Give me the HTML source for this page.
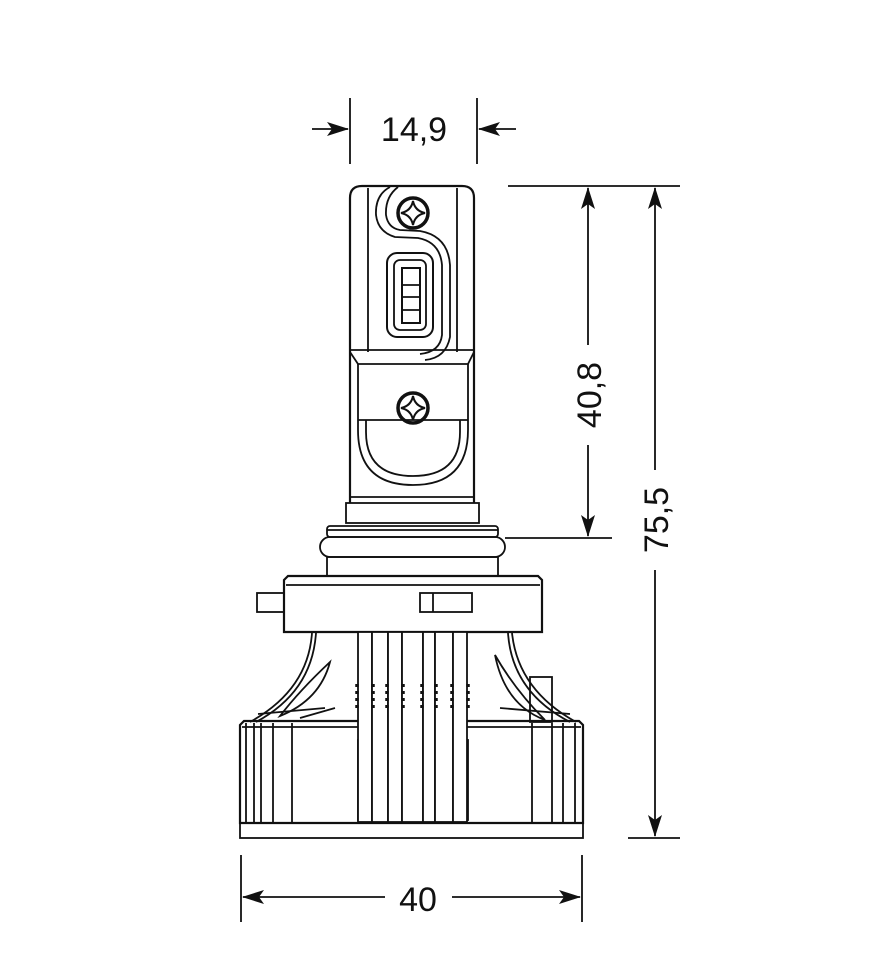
<!DOCTYPE html>
<html><head><style>html,body{margin:0;padding:0;background:#fff}svg{display:block}</style></head><body>
<svg width="870" height="967" viewBox="0 0 870 967" xmlns="http://www.w3.org/2000/svg" font-family="Liberation Sans, sans-serif">
<defs><marker id="a" markerWidth="22" markerHeight="14" refX="21" refY="7" orient="auto" markerUnits="userSpaceOnUse"><path d="M0,0 L22,7 L0,14 L5,7 Z" fill="#111"/></marker></defs>
<g stroke="#111" fill="none" stroke-width="1.8">
<!-- dimension 14,9 -->
<line x1="350" y1="98" x2="350" y2="164"/><line x1="477" y1="98" x2="477" y2="164"/>
<line x1="312" y1="129" x2="348" y2="129" marker-end="url(#a)"/>
<line x1="516" y1="129" x2="479" y2="129" marker-end="url(#a)"/>
<!-- right dims -->
<line x1="508" y1="186" x2="680" y2="186"/>
<line x1="505" y1="538" x2="612" y2="538"/>
<line x1="628" y1="838" x2="680" y2="838"/>
<line x1="588" y1="345" x2="588" y2="188" marker-end="url(#a)"/>
<line x1="588" y1="445" x2="588" y2="536" marker-end="url(#a)"/>
<line x1="655" y1="470" x2="655" y2="188" marker-end="url(#a)"/>
<line x1="655" y1="570" x2="655" y2="836" marker-end="url(#a)"/>
<!-- bottom dim -->
<line x1="241" y1="855" x2="241" y2="922"/><line x1="582" y1="855" x2="582" y2="922"/>
<line x1="385" y1="897" x2="243" y2="897" marker-end="url(#a)"/>
<line x1="452" y1="897" x2="580" y2="897" marker-end="url(#a)"/>

<!-- head -->
<path d="M350,503 L350,198 Q350,186 362,186 L462,186 Q474,186 474,198 L474,503" stroke-width="2.2"/>
<line x1="368" y1="188" x2="368" y2="352"/><line x1="457" y1="188" x2="457" y2="352"/>
<path d="M390,187 Q375,195 376,215 Q378,232 395,237 L418,238 Q440,242 442,265 L442,335 Q440,352 420,354"/>
<path d="M398,187 Q385,197 386,215 Q388,228 400,230 L420,231 Q448,236 450,265 L450,337 Q446,358 425,360"/>
<path d="M350,350 L474,350 M350,352 L358,364 L468,364 L474,352"/>
<circle cx="413" cy="213" r="15" stroke-width="3.5"/>
<path d="M413,201 Q415,211 425,213 Q415,215 413,225 Q411,215 401,213 Q411,211 413,201Z" stroke-width="2"/>
<rect x="387" y="253" width="46" height="84" rx="10" stroke-width="2"/>
<rect x="394" y="260" width="32" height="70" rx="6"/>
<rect x="402" y="268" width="18" height="55" stroke-width="2"/>
<line x1="402" y1="285" x2="420" y2="285"/><line x1="402" y1="297" x2="420" y2="297"/><line x1="402" y1="310" x2="420" y2="310"/>
<path d="M358,364 L358,430 Q358,485 413,485 Q468,485 468,430 L468,364"/>
<path d="M366,420 L366,432 Q366,476 413,476 Q460,476 460,432 L460,420"/>
<line x1="358" y1="420" x2="468" y2="420"/>
<circle cx="413" cy="408" r="15" stroke-width="3.5"/>
<path d="M413,396 Q415,406 425,408 Q415,410 413,420 Q411,410 401,408 Q411,406 413,396Z" stroke-width="2"/>
<line x1="350" y1="497" x2="474" y2="497"/>
<rect x="346" y="503" width="133" height="20"/>
<rect x="327" y="526" width="171" height="11" rx="3"/>
<line x1="327" y1="530" x2="498" y2="530"/>
<rect x="320" y="537" width="185" height="20" rx="10"/>
<rect x="327" y="557" width="171" height="19"/>
<!-- base -->
<path d="M284,580 L288,576 L538,576 L542,580 L542,632 L284,632 Z" stroke-width="2.2"/>
<line x1="286" y1="585" x2="540" y2="585"/>
<rect x="257" y="593" width="27" height="19"/>
<rect x="420" y="593" width="52" height="19"/><line x1="433" y1="593" x2="433" y2="612"/>
<!-- flanks -->
<path d="M312,633 Q308,690 250,722"/><path d="M316,633 Q312,692 256,722"/>
<path d="M330,662 Q320,700 280,716 Q300,690 330,662Z"/>
<path d="M325,708 L258,714 M335,708 L300,718"/>
<path d="M512,633 Q518,690 576,722"/><path d="M508,633 Q512,692 570,722"/>
<path d="M495,655 Q505,705 545,720 Q515,690 495,655Z"/>
<path d="M500,708 L570,714"/>
<rect x="530" y="677" width="22" height="45"/>
<!-- fins cylinder -->
<path d="M240,725 L244,721 L579,721 L583,725 L583,823 L240,823 Z" stroke-width="2.2"/>
<line x1="242" y1="727" x2="581" y2="727"/>
<line x1="246" y1="723" x2="246" y2="823"/><line x1="254" y1="723" x2="254" y2="823"/><line x1="261" y1="723" x2="261" y2="823"/>
<line x1="273" y1="723" x2="273" y2="823"/><line x1="292" y1="723" x2="292" y2="823"/>
<line x1="532" y1="723" x2="532" y2="823"/><line x1="552" y1="723" x2="552" y2="823"/><line x1="563" y1="723" x2="563" y2="823"/><line x1="575" y1="723" x2="575" y2="823"/>
<rect x="240" y="823" width="343" height="15"/>
<rect x="358" y="740" width="110" height="80"/>
<path d="M362,765 L380,750 M362,790 L382,775 M445,800 L465,790 M448,780 L466,770"/>
<!-- wires -->
<g fill="#fff">
<rect x="358" y="632" width="14" height="190"/><rect x="372" y="632" width="16" height="190"/>
<rect x="388" y="632" width="14" height="190"/><rect x="402" y="632" width="21" height="190"/>
<rect x="423" y="632" width="12" height="190"/><rect x="435" y="632" width="18" height="190"/>
<rect x="453" y="632" width="14" height="190"/>
</g>
<g stroke-width="3.5" stroke-dasharray="3,4">
<line x1="357" y1="684" x2="357" y2="710"/><line x1="373" y1="684" x2="373" y2="710"/>
<line x1="387" y1="684" x2="387" y2="710"/><line x1="403" y1="684" x2="403" y2="710"/>
<line x1="422" y1="684" x2="422" y2="710"/><line x1="436" y1="684" x2="436" y2="710"/>
<line x1="452" y1="684" x2="452" y2="710"/><line x1="468" y1="684" x2="468" y2="710"/>
</g>
</g>
<g fill="#111" font-size="34">
<text x="414" y="141" text-anchor="middle">14,9</text>
<text x="418" y="911" text-anchor="middle">40</text>
<text transform="translate(601,395) rotate(-90)" text-anchor="middle">40,8</text>
<text transform="translate(668,520) rotate(-90)" text-anchor="middle">75,5</text>
</g>
</svg>
</body></html>
